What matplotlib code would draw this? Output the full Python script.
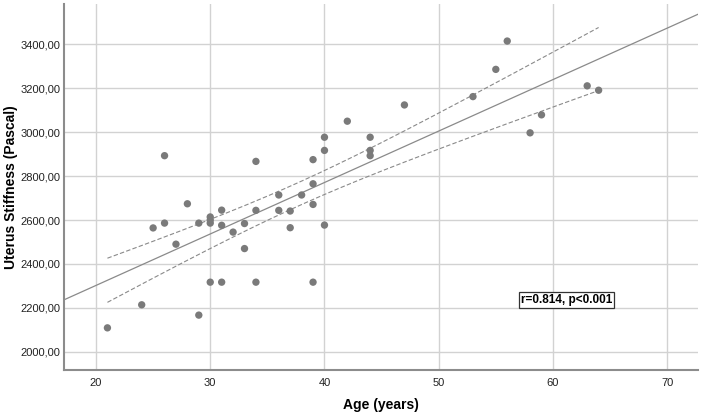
import numpy as np
import matplotlib
matplotlib.use("Agg")
import matplotlib.pyplot as plt

plt.rcParams['font.family'] = ['Liberation Sans', 'DejaVu Sans']

age = [21, 24, 25, 26, 26, 27, 28, 29, 29,
       30, 30, 30, 30, 31, 31, 31, 32, 33, 33,
       34, 34, 34, 36, 36, 37, 37, 38,
       39, 39, 39, 39, 40, 40, 40, 42,
       44, 44, 44, 47, 53, 55, 56, 58, 59, 63, 64]
stiffness = [2109, 2214, 2564, 2586, 2893, 2490, 2674, 2586, 2167,
             2317, 2586, 2600, 2614, 2645, 2576, 2317, 2545, 2584, 2470,
             2867, 2644, 2317, 2714, 2644, 2641, 2565, 2714,
             2875, 2765, 2671, 2317, 2977, 2917, 2577, 3050,
             2977, 2917, 2893, 3124, 3162, 3286, 3415, 2997, 3079, 3211, 3191]
x_ticks = [20, 30, 40, 50, 60, 70]
y_ticks = [2000, 2200, 2400, 2600, 2800, 3000, 3200, 3400]
annotation = "r=0.814, p<0.001"

x = np.array(age, dtype=float)
y = np.array(stiffness, dtype=float)

fig = plt.figure(figsize=(7.02, 4.15), dpi=100)
ax = fig.add_axes([0.0912, 0.1084, 0.9031, 0.8816])

xlim = (17.2, 72.7)
ylim = (1917, 3583)
ax.set_xlim(*xlim)
ax.set_ylim(*ylim)

ax.set_xticks(x_ticks)
ax.set_yticks(y_ticks)
ax.set_yticklabels([f"{v:.2f}".replace('.', ',') for v in y_ticks])
ax.grid(True, color='#d2d2d2', linewidth=1.0)
ax.set_axisbelow(True)
ax.tick_params(length=0, labelsize=8, labelcolor='#222222')
ax.tick_params(axis='y', pad=2.5)
ax.tick_params(axis='x', pad=6)

for s in ['top', 'right']:
    ax.spines[s].set_visible(False)
for s in ['left', 'bottom']:
    ax.spines[s].set_color('#8c8c8c')
    ax.spines[s].set_linewidth(1.5)

# regression fit and 95% CI of mean
n = len(x)
b, a = np.polyfit(x, y, 1)
xx = np.linspace(xlim[0], xlim[1], 200)
ax.plot(xx, a + b * xx, color='#8a8a8a', linewidth=0.9, zorder=2)

xc = np.linspace(x.min(), x.max(), 200)
resid = y - (a + b * x)
s = np.sqrt(np.sum(resid ** 2) / (n - 2))
sxx = np.sum((x - x.mean()) ** 2)
se = s * np.sqrt(1.0 / n + (xc - x.mean()) ** 2 / sxx)
t = 2.015
yc = a + b * xc
ax.plot(xc, yc + t * se, color='#8a8a8a', linewidth=0.8, linestyle=(0, (4, 2)), zorder=2)
ax.plot(xc, yc - t * se, color='#8a8a8a', linewidth=0.8, linestyle=(0, (4, 2)), zorder=2)

ax.scatter(x, y, s=28, color='#7a7a7a', edgecolors='none', zorder=3)

ax.text(61.2, 2235, annotation, fontsize=8.5, fontweight='bold', ha='center', va='center',
        bbox=dict(boxstyle='square,pad=0.15', facecolor='white', edgecolor='#333333', linewidth=0.9),
        zorder=4)

ax.set_xlabel("Age (years)", fontsize=10, fontweight='bold', va='center')
ax.set_ylabel("Uterus Stiffness (Pascal)", fontsize=10, fontweight='bold', va='center')
ax.xaxis.set_label_coords(0.5, -0.0956)
ax.yaxis.set_label_coords(-0.084, 0.5)

fig.savefig("out.png", dpi=100)
